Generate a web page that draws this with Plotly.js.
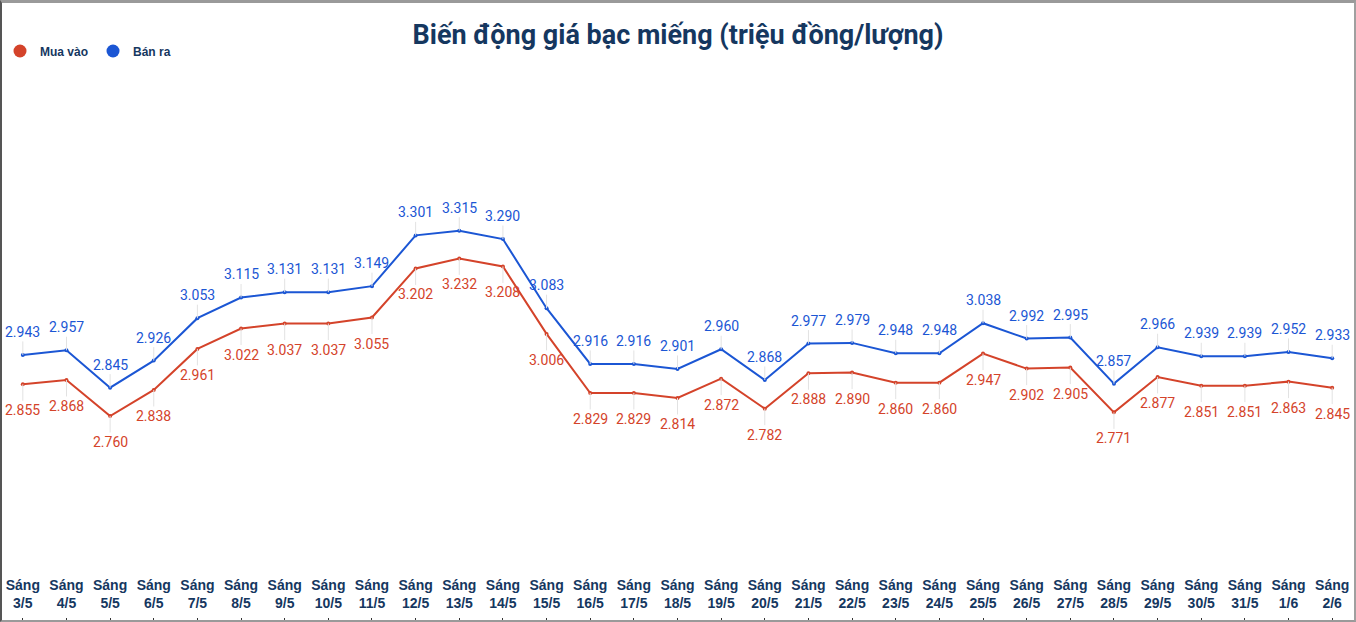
<!DOCTYPE html>
<html>
<head>
<meta charset="utf-8">
<script src="https://cdn.plot.ly/plotly-3.0.1.min.js"></script>
<style>
html,body{margin:0;padding:0;background:#fff;}
#wrap{position:relative;width:1356px;height:622px;}
#chart{width:1356px;height:622px;}
#frame{position:absolute;left:0;top:0;width:1356px;height:622px;box-sizing:border-box;
border-top:3px solid #9a9a9a;border-left:2px solid #555;border-right:2px solid #a0a0a0;border-bottom:2px solid #9a9a9a;pointer-events:none;}
</style>
</head>
<body>
<div id="wrap"><div id="chart"></div><div id="frame"></div></div>
<script>
const dates = ["3/5","4/5","5/5","6/5","7/5","8/5","9/5","10/5","11/5","12/5","13/5","14/5","15/5","16/5","17/5","18/5","19/5","20/5","21/5","22/5","23/5","24/5","25/5","26/5","27/5","28/5","29/5","30/5","31/5","1/6","2/6"];
const buyPrices = [2.855,2.868,2.760,2.838,2.961,3.022,3.037,3.037,3.055,3.202,3.232,3.208,3.006,2.829,2.829,2.814,2.872,2.782,2.888,2.890,2.860,2.860,2.947,2.902,2.905,2.771,2.877,2.851,2.851,2.863,2.845];
const sellPrices = [2.943,2.957,2.845,2.926,3.053,3.115,3.131,3.131,3.149,3.301,3.315,3.290,3.083,2.916,2.916,2.901,2.960,2.868,2.977,2.979,2.948,2.948,3.038,2.992,2.995,2.857,2.966,2.939,2.939,2.952,2.933];
const buyName = "Mua vào";
const sellName = "Bán ra";

const categories = dates.map(d => "Sáng<br>" + d);
const RED = "#d4432a";
const BLUE = "#1b56d4";
const NAVY = "#15375f";

const traces = [
  {x: categories, y: buyPrices, mode: "lines+markers", name: buyName, showlegend: false,
   line: {color: RED, width: 2}, marker: {color: RED, size: 4}, hoverinfo: "skip"},
  {x: categories, y: sellPrices, mode: "lines+markers", name: sellName, showlegend: false,
   line: {color: BLUE, width: 2}, marker: {color: BLUE, size: 4}, hoverinfo: "skip"},
  {x: [null], y: [null], mode: "markers", name: buyName, marker: {color: RED, size: 13}},
  {x: [null], y: [null], mode: "markers", name: sellName, marker: {color: BLUE, size: 13}}
];

const annotations = [];
categories.forEach((c, i) => {
  annotations.push({x: c, y: sellPrices[i], xref: "x", yref: "y", text: sellPrices[i].toFixed(3),
    showarrow: true, arrowhead: 0, arrowwidth: 1, arrowcolor: "#e2e2e2", ax: 0, ay: -23, standoff: 0,
    font: {family: "Roboto, sans-serif", size: 14, color: BLUE}});
  annotations.push({x: c, y: buyPrices[i], xref: "x", yref: "y", text: buyPrices[i].toFixed(3),
    showarrow: true, arrowhead: 0, arrowwidth: 1, arrowcolor: "#e2e2e2", ax: 0, ay: 26, standoff: 0,
    font: {family: "Roboto, sans-serif", size: 14, color: RED}});
});

const layout = {
  width: 1356, height: 622,
  margin: {l: 1, r: 2, t: 70, b: 5},
  paper_bgcolor: "#fff", plot_bgcolor: "#fff",
  title: {text: "<b>Biến động giá bạc miếng (triệu đồng/lượng)</b>", x: 0.5, xanchor: "center",
    y: 1 - 35/622, yanchor: "middle",
    font: {family: "Roboto, sans-serif", size: 27, color: NAVY}},
  showlegend: true,
  legend: {orientation: "h", xref: "paper", yref: "container", x: -0.0065, xanchor: "left",
    y: 1 - 51/622, yanchor: "middle", font: {family: "Liberation Sans, Arial, sans-serif", size: 12, color: NAVY, weight: "bold"},
    itemwidth: 30, tracegroupgap: 0, bgcolor: "rgba(0,0,0,0)"},
  xaxis: {type: "category", range: [-0.5, 30.5], showgrid: false, zeroline: false, showline: false,
    ticks: "outside", ticklen: 4, tickwidth: 1, tickcolor: "#333", ticklabelposition: "inside", ticklabelstandoff: 3,
    tickfont: {family: "Liberation Sans, Arial, sans-serif", size: 14, color: NAVY, weight: "bold"}, fixedrange: true},
  yaxis: {range: [2.1581, 3.7963], showgrid: false, zeroline: false, showline: false, showticklabels: false, ticks: "", fixedrange: true},
  annotations: annotations
};

Plotly.newPlot("chart", traces, layout, {displayModeBar: false, staticPlot: true});
</script>
</body>
</html>
